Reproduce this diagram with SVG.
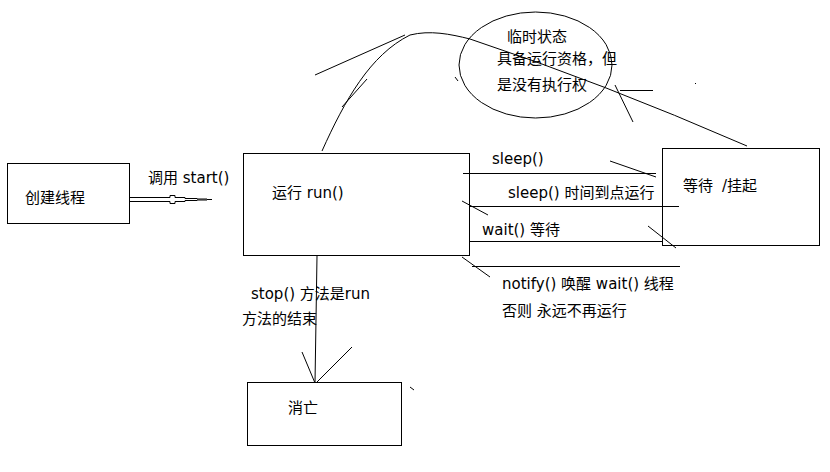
<svg xmlns="http://www.w3.org/2000/svg" width="830" height="472" viewBox="0 0 830 472">
<style>
.box{fill:#fff;stroke:#000;stroke-width:1}
.ln{fill:none;stroke:#000;stroke-width:1}
text{font-family:"DejaVu Sans","Noto Sans CJK SC",sans-serif;font-size:15px;fill:#000}
</style>
<rect width="830" height="472" fill="#fff"/>
<g id="create">
<rect class="box" x="7.5" y="163.5" width="122" height="60"/>
<text x="25" y="203">创建线程</text>
</g>
<text x="148" y="183">调用 start()</text>
<g id="run">
<rect class="box" x="243.5" y="153.5" width="226" height="102"/>
<text x="272" y="198">运行 run()</text>
</g>
<g id="temp">
<ellipse class="ln" cx="535.5" cy="65" rx="76.5" ry="53"/>
<text x="507" y="42">临时状态</text>
<text x="497" y="64">具备运行资格，但</text>
<text x="497" y="90">是没有执行权</text>
</g>
<g id="wait">
<rect class="box" x="662.5" y="148.5" width="157" height="97"/>
<text x="683" y="191">等待</text>
<text x="722" y="191">/挂起</text>
</g>
<g id="dead">
<rect class="box" x="247.5" y="382.5" width="154" height="63"/>
<text x="288" y="413">消亡</text>
</g>
<g id="connectors">
<path class="ln" d="M130 197.5 H170 V195.5 H175 V197.5 H185 V198.5 H197 V199 H207 M130 201.5 H170 V203.5 H175 V201.5 H185 V200.5 H197 V200 H207 M207 199.5 H212"/>
<path class="ln" d="M322 151 C345 100 370 55 410 35 C430 30 450 34 470 39 Q600 82 747 146"/>
<path class="ln" d="M315 75 L405 35 M367 79 L342 107"/>
<path class="ln" d="M455 77 L458 81 M620 90.5 H653 M615 85 L633 122 M695 83 L696 84"/>
<path class="ln" d="M463 173.5 H656 M610 161 L656 177"/>
<path class="ln" d="M470 206.5 H679 M462 201 L488 215"/>
<path class="ln" d="M470 241.5 H662 M648 226 L676 248"/>
<path class="ln" d="M472 266.5 H680 M462 257 L490 277"/>
<path class="ln" d="M317 256 L315 383 M302 352 L315 383 M352 347 L316 383 M410 387 L414 390"/>
</g>
<text x="492" y="164">sleep()</text>
<text x="508" y="198">sleep() 时间到点运行</text>
<text x="482" y="235">wait() 等待</text>
<text x="502" y="289">notify() 唤醒 wait() 线程</text>
<text x="502" y="316">否则 永远不再运行</text>
<text x="251" y="299">stop() 方法是run</text>
<text x="242" y="324">方法的结束</text>
</svg>
